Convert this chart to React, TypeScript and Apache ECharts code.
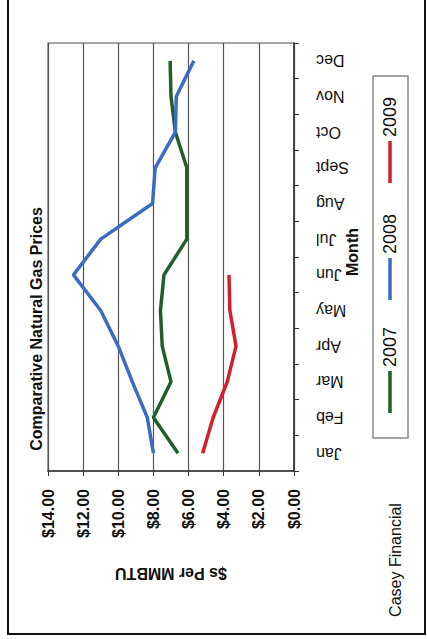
import React, { useEffect, useRef } from "react";
import * as echarts from "echarts";

const months = ["Jan", "Feb", "Mar", "Apr", "May", "Jun", "Jul", "Aug", "Sept", "Oct", "Nov", "Dec"];
const seriesNames = ["2007", "2008", "2009"];
const prices2007 = [6.6, 8.0, 7.0, 7.5, 7.6, 7.4, 6.1, 6.1, 6.1, 6.75, 7.0, 7.05];
const prices2008 = [8.0, 8.35, 9.2, 10.0, 11.0, 12.55, 11.0, 8.05, 7.9, 6.75, 6.7, 5.7];
const prices2009 = [5.2, 4.6, 3.8, 3.3, 3.65, 3.7];
const seriesColors = ["#1f5f2a", "#3a6cc6", "#d2202c"];
const titleText = "Comparative Natural Gas Prices";
const valueAxisName = "$s Per MMBTU";
const categoryAxisName = "Month";
const footerText = "Casey Financial";

const FONT = "'Liberation Sans', Arial, sans-serif";

export default function App() {
  const ref = useRef<HTMLDivElement>(null);
  useEffect(() => {
    if (!ref.current) return;
    const chart = echarts.init(ref.current, undefined, { renderer: "svg" });
    const allSeries = [prices2007, prices2008, prices2009];

    const legendItems: any[] = [];
    const legendBaseY = [413, 300, 183];
    seriesNames.forEach((name, i) => {
      const yb = legendBaseY[i];
      legendItems.push({
        type: "line",
        shape: { x1: 390, y1: yb, x2: 390, y2: yb - 42 },
        style: { stroke: seriesColors[i], lineWidth: 3.5 },
      });
      legendItems.push({
        type: "text",
        x: 390,
        y: yb - 66,
        rotation: Math.PI / 2,
        style: {
          text: name,
          font: `18px ${FONT}`,
          fill: "#111",
          align: "center",
          verticalAlign: "middle",
        },
      });
    });

    chart.setOption({
      animation: false,
      backgroundColor: "#ffffff",
      grid: { left: 48, right: 133, top: 43, bottom: 168, show: true, borderColor: "#888", borderWidth: 1.5, containLabel: false },
      xAxis: {
        type: "value",
        min: 0,
        max: 14,
        interval: 2,
        inverse: true,
        position: "bottom",
        name: valueAxisName,
        nameLocation: "middle",
        nameRotate: 180,
        nameGap: 94,
        nameMoveOverlap: false,
        nameTextStyle: { fontFamily: FONT, fontWeight: "bold", fontSize: 16, color: "#111" },
        axisLine: { show: true, lineStyle: { color: "#333", width: 1.5 } },
        axisTick: { show: true, length: 5, lineStyle: { color: "#333" } },
        axisLabel: {
          rotate: 90,
          margin: 18,
          fontFamily: FONT,
          fontWeight: "bold",
          fontSize: 16,
          color: "#111",
          formatter: (v: number) => "$" + v.toFixed(2),
        },
        splitLine: { show: true, lineStyle: { color: "#555", width: 1.2 } },
      },
      yAxis: {
        type: "category",
        data: months,
        position: "right",
        boundaryGap: true,
        name: categoryAxisName,
        nameLocation: "middle",
        nameRotate: 90,
        nameGap: 50,
        nameMoveOverlap: false,
        nameTextStyle: { fontFamily: FONT, fontWeight: "bold", fontSize: 16, color: "#111", padding: [0, 0, 0, 10] },
        axisLine: { show: true, lineStyle: { color: "#333", width: 1.5 } },
        axisTick: { show: true, length: 5, lineStyle: { color: "#333" } },
        axisLabel: {
          rotate: 180,
          margin: 22,
          fontFamily: FONT,
          fontSize: 16,
          color: "#111",
        },
        splitLine: { show: false },
      },
      series: seriesNames.map((name, i) => ({
        name,
        type: "line",
        data: allSeries[i],
        showSymbol: false,
        symbol: "none",
        lineStyle: { color: seriesColors[i], width: 3.5 },
        itemStyle: { color: seriesColors[i] },
      })),
      graphic: [
        {
          type: "rect",
          shape: { x: 8, y: -2, width: 417, height: 636 },
          style: { fill: "none", stroke: "#111", lineWidth: 2 },
          silent: true,
        },
        {
          type: "text",
          x: 36,
          y: 329,
          rotation: Math.PI / 2,
          style: {
            text: titleText,
            font: `bold 16px ${FONT}`,
            fill: "#111",
            align: "center",
            verticalAlign: "middle",
          },
        },
        {
          type: "text",
          x: 395,
          y: 560,
          rotation: Math.PI / 2,
          style: {
            text: footerText,
            font: `16px ${FONT}`,
            fill: "#111",
            align: "center",
            verticalAlign: "middle",
          },
        },
        {
          type: "rect",
          shape: { x: 373, y: 76, width: 35, height: 362 },
          style: { fill: "#fff", stroke: "#888", lineWidth: 1.5 },
        },
        ...legendItems,
      ],
    });
    return () => chart.dispose();
  }, []);
  return <div ref={ref} style={{ position: "fixed", left: 0, top: 0, width: 427, height: 639 }} />;
}
